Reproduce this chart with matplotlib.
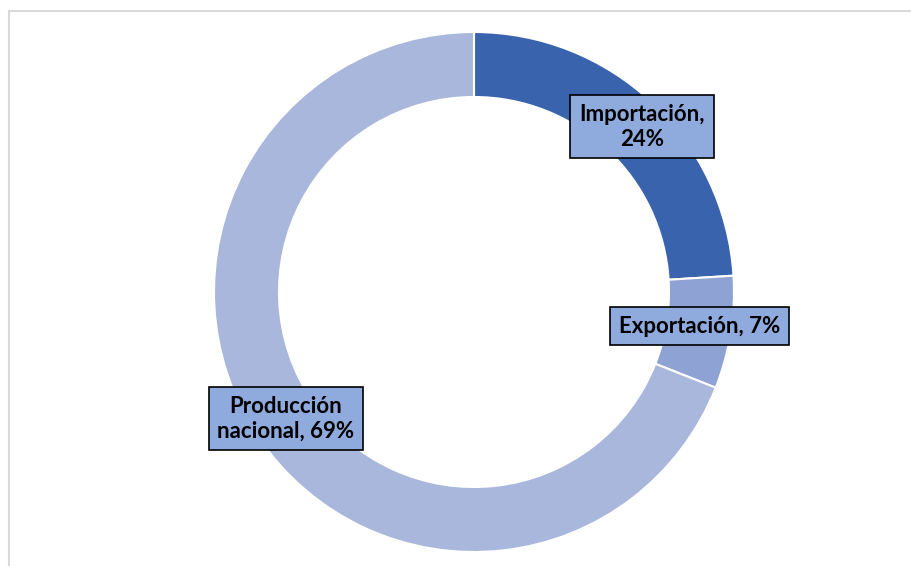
import matplotlib.pyplot as plt
from matplotlib.patches import Rectangle

labels = ["Importación", "Exportación", "Producción nacional"]
values = [24, 7, 69]
label_text = ["Importación,\n24%", "Exportación, 7%", "Producción\nnacional, 69%"]

colors = ["#3A63AD", "#8FA2D4", "#A9B7DC"]
label_pos = [(0.646, 0.635), (0.869, -0.131), (-0.723, -0.488)]

fig = plt.figure(figsize=(9.11, 5.66), dpi=100)

# light gray frame (top/left edges visible)
frame = Rectangle((9 / 911, -0.1), 1.1, 1 - 11 / 566 + 0.1, transform=fig.transFigure,
                  fill=False, edgecolor="#D9D9D9", linewidth=1.5)
fig.patches.append(frame)

cx, cy, r = 474, 292, 260
ax = fig.add_axes([(cx - r) / 911, (566 - cy - r) / 566, 2 * r / 911, 2 * r / 566])
ax.pie(values, colors=colors, startangle=90, counterclock=False, radius=1,
       wedgeprops=dict(width=0.25, edgecolor="white", linewidth=1.5))
ax.set_xlim(-1, 1)
ax.set_ylim(-1, 1)
ax.set_aspect("equal")
ax.axis("off")

for txt, (x, y) in zip(label_text, label_pos):
    ax.text(x, y, txt, ha="center", va="center", fontsize=16, fontweight="bold",
            family="Lato", color="black", linespacing=1.2,
            bbox=dict(boxstyle="square,pad=0.4", facecolor="#8FAADC",
                      edgecolor="black", linewidth=1.2))

fig.savefig("out.png", dpi=100)
